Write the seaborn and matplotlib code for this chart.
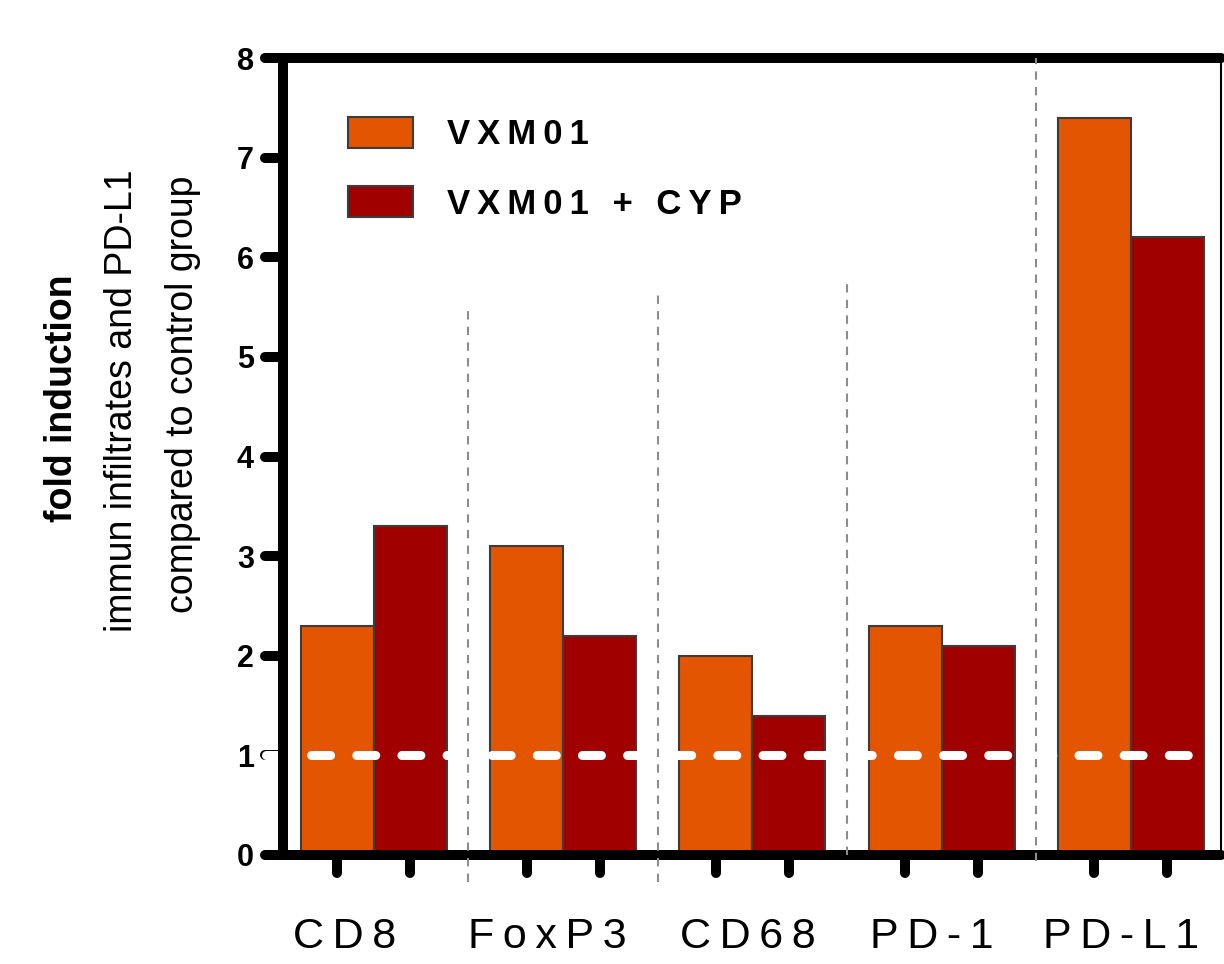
import numpy as np
import pandas as pd
import matplotlib
matplotlib.use("Agg")
import matplotlib.pyplot as plt
import seaborn as sns
from matplotlib.markers import MarkerStyle, TICKLEFT, TICKDOWN
from matplotlib.patches import Patch

# ---------------- data ----------------
categories = ["CD8", "FoxP3", "CD68", "PD-1", "PD-L1"]
series_names = ["VXM01", "VXM01 + CYP"]
vxm01 = [2.3, 3.1, 2.0, 2.3, 7.4]
vxm01_cyp = [3.3, 2.2, 1.4, 2.1, 6.2]
reference_level = 1
y_ticks = [0, 1, 2, 3, 4, 5, 6, 7, 8]
separator_x = [0.5, 1.5, 2.5, 3.5]
separator_top = [5.47, 5.65, 5.77, 8.0]
separator_bottom = [-0.27, -0.27, 0.0, -0.06]
label_nudge = [-0.153, -0.085, -0.026, -0.053, -0.053]
ylabel_lines = ["fold induction", "immun infiltrates and PD-L1", "compared to control group"]
colors = ["#E35500", "#A00000"]

THIN = "\u2009"


def spaced(s, sp=THIN):
    return sp.join(s)


# ---------------- style ----------------
sns.set_theme(style="ticks")
plt.rcParams["font.family"] = ["Liberation Sans", "DejaVu Sans"]
for key in ["text.color", "axes.labelcolor", "xtick.color", "ytick.color",
            "xtick.labelcolor", "ytick.labelcolor"]:
    plt.rcParams[key] = "black"

W, H = 1224, 964
fig = plt.figure(figsize=(W / 100, H / 100), dpi=100)
ax_left, ax_right, ax_top, ax_bottom = 283, 1221, 58, 855
ax = fig.add_axes([ax_left / W, (H - ax_bottom) / H,
                   (ax_right - ax_left) / W, (ax_bottom - ax_top) / H])

df = pd.DataFrame({
    "category": categories * 2,
    "value": vxm01 + vxm01_cyp,
    "group": [series_names[0]] * len(categories) + [series_names[1]] * len(categories),
})

sns.barplot(data=df, x="category", y="value", hue="group", order=categories,
            hue_order=series_names, palette=colors, width=0.772, saturation=1,
            edgecolor="#3c3c3c", linewidth=1.5, errorbar=None, legend=False, ax=ax)

ax.set_xlim(-0.48, 4.476)
ax.set_ylim(0, 8)
ax.set_xlabel("")
ax.set_ylabel("")

# bar centers -> major ticks
centers = sorted(p.get_x() + p.get_width() / 2 for p in ax.patches if p.get_height() > 0)
ax.set_xticks(centers)
ax.set_xticklabels([""] * len(centers))
ax.set_xticks([i + d for i, d in enumerate(label_nudge)], minor=True)
ax.set_xticklabels([spaced(c) for c in categories], minor=True, fontsize=31, color="black")
ax.tick_params(axis="x", which="minor", length=0, pad=45, colors="black")
ax.tick_params(axis="x", which="major", direction="out", length=13, width=7.2, color="black")

ax.set_yticks(y_ticks)
ax.set_yticklabels([str(t) for t in y_ticks], fontsize=22, fontweight="bold", color="black")
ax.tick_params(axis="y", direction="out", length=13, width=7.2, color="black", pad=8)

for t in ax.yaxis.get_major_ticks():
    t.tick1line.set_marker(MarkerStyle(TICKLEFT, capstyle="round"))
for t in ax.xaxis.get_major_ticks():
    t.tick1line.set_marker(MarkerStyle(TICKDOWN, capstyle="round"))

# spines
for side in ["left", "top", "bottom"]:
    ax.spines[side].set_linewidth(7.2)
    ax.spines[side].set_color("black")
    ax.spines[side].set_capstyle("round")
ax.spines["right"].set_linewidth(1.5)
ax.spines["right"].set_color("black")
for s in ax.spines.values():
    s.set_visible(True)

# white dashed reference line
ax.axhline(reference_level, xmin=-0.018, xmax=1.0, color="white", lw=6.5,
           linestyle=(0, (2.1, 2.9)), dash_capstyle="round", clip_on=False, zorder=2.4)

# dotted separators
ax.vlines(separator_x, separator_bottom, separator_top, colors="#8c8c8c",
          linestyles=[(0, (4, 3.5))], linewidth=1.5, clip_on=False, zorder=3)

# legend
handles = [Patch(facecolor=c, edgecolor="#3c3c3c", linewidth=1.5) for c in colors]
ax.legend(handles, [spaced(s) for s in series_names], loc="upper left",
          bbox_to_anchor=(0.069, 0.926), frameon=False,
          prop={"size": 25, "weight": "bold"}, handlelength=1.87, handleheight=1.0,
          handletextpad=1.0, labelspacing=1.0, borderaxespad=0, borderpad=0)

# y label (three lines)
fig.text(62 / W, 1 - 398 / H, ylabel_lines[0], rotation=90, ha="center", va="center",
         fontsize=27, fontweight="bold")
fig.text(122 / W, 1 - 401 / H, ylabel_lines[1], rotation=90, ha="center", va="center",
         fontsize=27)
fig.text(183 / W, 1 - 394 / H, ylabel_lines[2], rotation=90, ha="center", va="center",
         fontsize=27)

fig.savefig("out.png", dpi=100, facecolor="white")
